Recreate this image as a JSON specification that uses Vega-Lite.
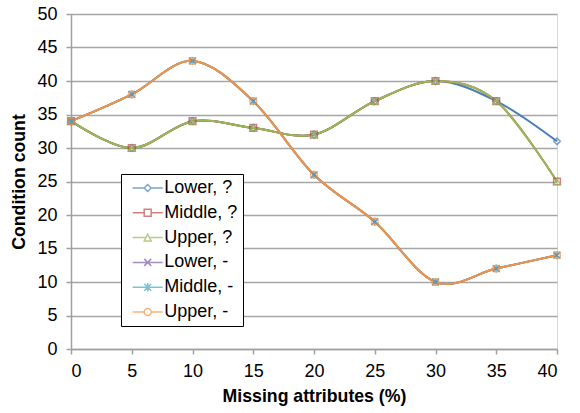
{
  "$schema": "https://vega.github.io/schema/vega-lite/v6.json",
  "width": 486,
  "height": 335,
  "autosize": "none",
  "padding": {"left": 71, "top": 14, "right": 23, "bottom": 64},
  "background": "white",
  "config": {
    "font": "Liberation Sans",
    "view": {"stroke": "#D9D9D9", "strokeWidth": 1},
    "axis": {
      "domainColor": "#A0A0A0",
      "domainWidth": 1.5,
      "tickColor": "#A0A0A0",
      "tickWidth": 1.5,
      "tickSize": 5,
      "gridColor": "#A6A6A6",
      "gridWidth": 1.5,
      "labelFont": "Liberation Sans",
      "labelFontSize": 18,
      "labelColor": "#000000",
      "titleFont": "Liberation Sans",
      "titleFontSize": 17.7,
      "titleFontWeight": "bold",
      "titleColor": "#000000"
    },
    "legend": {
      "title": null,
      "orient": "none",
      "legendX": 50,
      "legendY": 160,
      "strokeColor": "#000000",
      "fillColor": "#FFFFFF",
      "padding": 5,
      "symbolSize": 49,
      "symbolStrokeWidth": 1.5,
      "symbolOffset": 12.7,
      "labelOffset": 7.6,
      "labelFontSize": 18,
      "labelFont": "Liberation Sans",
      "labelColor": "#000000",
      "rowPadding": 6.8
    }
  },
  "data": {
    "values": [
      {"x": 0, "y": 34, "s": "Lower, ?"}, {"x": 5, "y": 30, "s": "Lower, ?"}, {"x": 10, "y": 34, "s": "Lower, ?"}, {"x": 15, "y": 33, "s": "Lower, ?"}, {"x": 20, "y": 32, "s": "Lower, ?"}, {"x": 25, "y": 37, "s": "Lower, ?"}, {"x": 30, "y": 40, "s": "Lower, ?"}, {"x": 35, "y": 37, "s": "Lower, ?"}, {"x": 40, "y": 31, "s": "Lower, ?"},
      {"x": 0, "y": 34, "s": "Middle, ?"}, {"x": 5, "y": 30, "s": "Middle, ?"}, {"x": 10, "y": 34, "s": "Middle, ?"}, {"x": 15, "y": 33, "s": "Middle, ?"}, {"x": 20, "y": 32, "s": "Middle, ?"}, {"x": 25, "y": 37, "s": "Middle, ?"}, {"x": 30, "y": 40, "s": "Middle, ?"}, {"x": 35, "y": 37, "s": "Middle, ?"}, {"x": 40, "y": 25, "s": "Middle, ?"},
      {"x": 0, "y": 34, "s": "Upper, ?"}, {"x": 5, "y": 30, "s": "Upper, ?"}, {"x": 10, "y": 34, "s": "Upper, ?"}, {"x": 15, "y": 33, "s": "Upper, ?"}, {"x": 20, "y": 32, "s": "Upper, ?"}, {"x": 25, "y": 37, "s": "Upper, ?"}, {"x": 30, "y": 40, "s": "Upper, ?"}, {"x": 35, "y": 37, "s": "Upper, ?"}, {"x": 40, "y": 25, "s": "Upper, ?"},
      {"x": 0, "y": 34, "s": "Lower, -"}, {"x": 5, "y": 38, "s": "Lower, -"}, {"x": 10, "y": 43, "s": "Lower, -"}, {"x": 15, "y": 37, "s": "Lower, -"}, {"x": 20, "y": 26, "s": "Lower, -"}, {"x": 25, "y": 19, "s": "Lower, -"}, {"x": 30, "y": 10, "s": "Lower, -"}, {"x": 35, "y": 12, "s": "Lower, -"}, {"x": 40, "y": 14, "s": "Lower, -"},
      {"x": 0, "y": 34, "s": "Middle, -"}, {"x": 5, "y": 38, "s": "Middle, -"}, {"x": 10, "y": 43, "s": "Middle, -"}, {"x": 15, "y": 37, "s": "Middle, -"}, {"x": 20, "y": 26, "s": "Middle, -"}, {"x": 25, "y": 19, "s": "Middle, -"}, {"x": 30, "y": 10, "s": "Middle, -"}, {"x": 35, "y": 12, "s": "Middle, -"}, {"x": 40, "y": 14, "s": "Middle, -"},
      {"x": 0, "y": 34, "s": "Upper, -"}, {"x": 5, "y": 38, "s": "Upper, -"}, {"x": 10, "y": 43, "s": "Upper, -"}, {"x": 15, "y": 37, "s": "Upper, -"}, {"x": 20, "y": 26, "s": "Upper, -"}, {"x": 25, "y": 19, "s": "Upper, -"}, {"x": 30, "y": 10, "s": "Upper, -"}, {"x": 35, "y": 12, "s": "Upper, -"}, {"x": 40, "y": 14, "s": "Upper, -"}
    ]
  },
  "encoding": {
    "x": {
      "field": "x", "type": "quantitative",
      "scale": {"domain": [0, 40], "nice": false},
      "axis": {"title": "Missing attributes (%)", "values": [0, 5, 10, 15, 20, 25, 30, 35, 40], "grid": false, "labelPadding": 8, "titlePadding": 7}
    },
    "y": {
      "field": "y", "type": "quantitative",
      "scale": {"domain": [0, 50], "nice": false},
      "axis": {"title": "Condition count", "values": [0, 5, 10, 15, 20, 25, 30, 35, 40, 45, 50], "labelPadding": 9, "titlePadding": 8}
    },
    "color": {
      "field": "s", "type": "nominal",
      "scale": {
        "domain": ["Lower, ?", "Middle, ?", "Upper, ?", "Lower, -", "Middle, -", "Upper, -"],
        "range": ["#4A7EBB", "#BE4B48", "#98B954", "#7D60A0", "#46AAC5", "#F69240"]
      }
    }
  },
  "layer": [
    {
      "mark": {"type": "line", "interpolate": "cardinal", "strokeWidth": 2}
    },
    {
      "transform": [{"filter": "datum.s === 'Lower, ?'"}],
      "mark": {"type": "point", "filled": false, "size": 45, "strokeWidth": 1.5, "shape": "diamond"}
    },
    {
      "transform": [{"filter": "datum.s === 'Middle, ?'"}],
      "mark": {"type": "point", "filled": false, "size": 45, "strokeWidth": 1.5, "shape": "square"}
    },
    {
      "transform": [{"filter": "datum.s === 'Upper, ?'"}],
      "mark": {"type": "point", "filled": false, "size": 45, "strokeWidth": 1.5, "shape": "triangle-up"}
    },
    {
      "transform": [{"filter": "datum.s === 'Lower, -'"}],
      "mark": {"type": "point", "filled": false, "size": 45, "strokeWidth": 1.5, "shape": "M-1,-1L1,1M-1,1L1,-1"}
    },
    {
      "transform": [{"filter": "datum.s === 'Middle, -'"}],
      "mark": {"type": "point", "filled": false, "size": 45, "strokeWidth": 1.5, "shape": "M-1,-1L1,1M-1,1L1,-1M0,-1.2L0,1.2"}
    },
    {
      "transform": [{"filter": "datum.s === 'Upper, -'"}],
      "mark": {"type": "point", "filled": false, "size": 45, "strokeWidth": 1.5, "shape": "circle"}
    },
    {
      "mark": {"type": "point", "filled": false, "size": 0, "strokeWidth": 1.5},
      "encoding": {
        "shape": {
          "field": "s", "type": "nominal",
          "scale": {
            "domain": ["Lower, ?", "Middle, ?", "Upper, ?", "Lower, -", "Middle, -", "Upper, -"],
            "range": [
              "M-4.3,0L-1,0M1,0L4.3,0M0,-1L1,0L0,1L-1,0Z",
              "M-4.3,0L-1,0M1,0L4.3,0M-1,-1L1,-1L1,1L-1,1Z",
              "M-4.3,0L-0.5,0M0.5,0L4.3,0M0,-1L1,1L-1,1Z",
              "M-4.3,0L4.3,0M-1,-1L1,1M-1,1L1,-1",
              "M-4.3,0L4.3,0M-1,-1L1,1M-1,1L1,-1M0,-1.2L0,1.2",
              "M-4.3,0L-1,0M1,0L4.3,0M-1,0A1,1,0,1,1,1,0A1,1,0,1,1,-1,0Z"
            ]
          }
        }
      }
    }
  ]
}
